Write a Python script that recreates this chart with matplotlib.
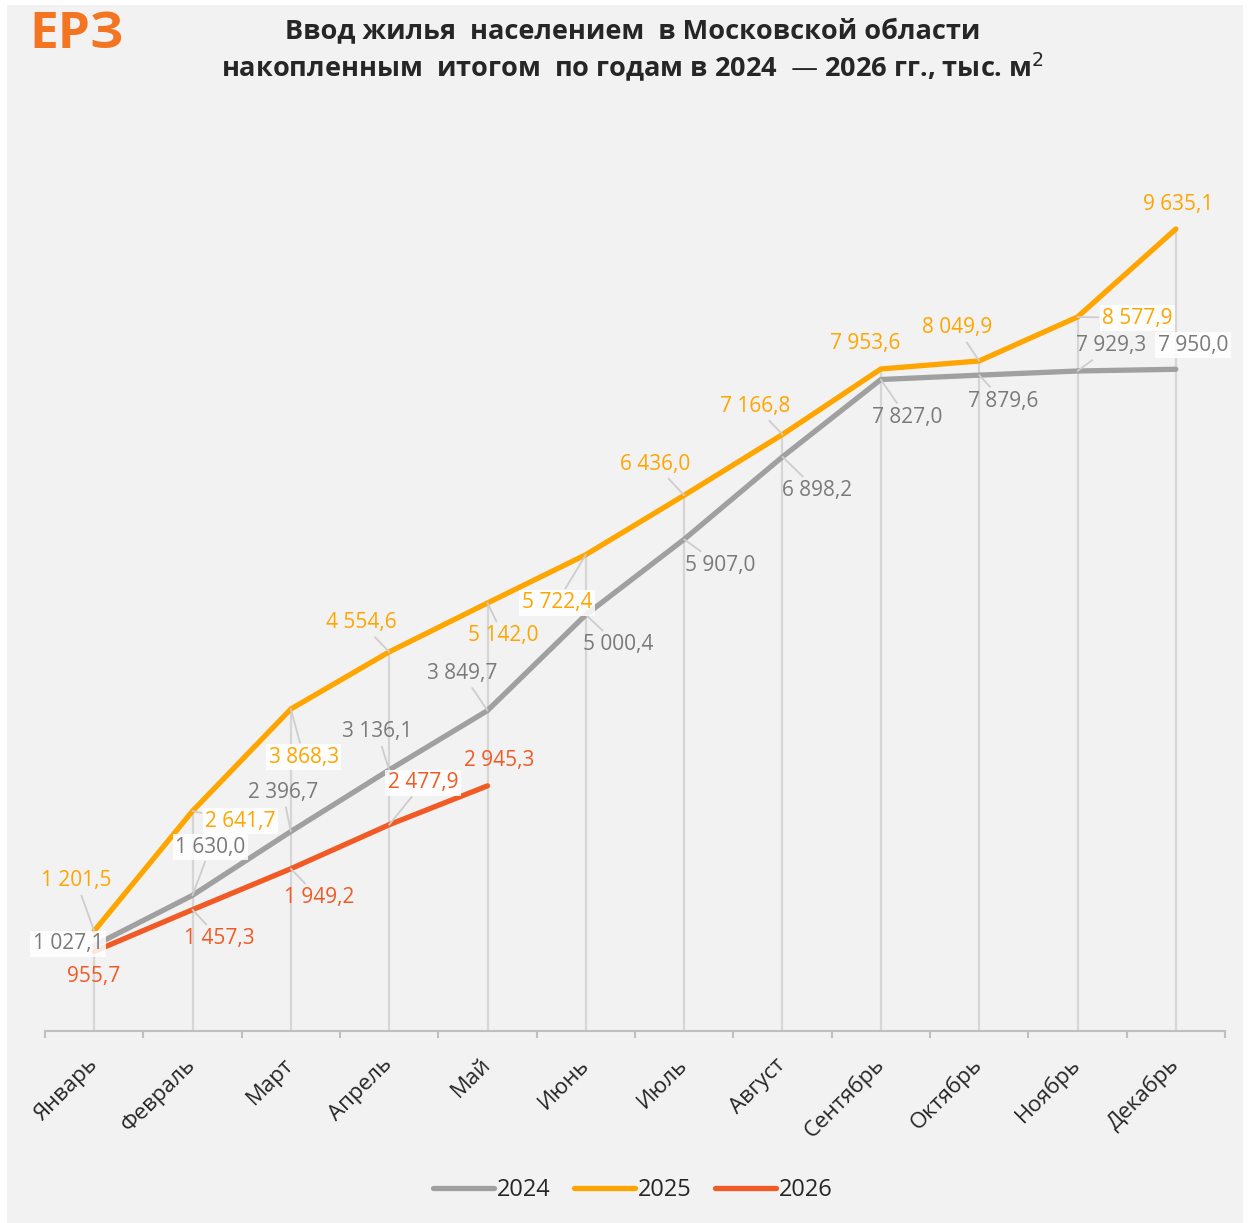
"""Cumulative housing completions by individuals, Moscow region, 2024-2026."""

import matplotlib

matplotlib.use("Agg")
import matplotlib.pyplot as plt
from matplotlib.patches import Rectangle
from matplotlib.lines import Line2D

plt.rcParams["font.family"] = ["Open Sans", "DejaVu Sans"]

MONTHS = ["Январь", "Февраль", "Март", "Апрель", "Май", "Июнь", "Июль",
          "Август", "Сентябрь", "Октябрь", "Ноябрь", "Декабрь"]

Y2024 = [1027.1, 1630.0, 2396.7, 3136.1, 3849.7, 5000.4, 5907.0,
         6898.2, 7827.0, 7879.6, 7929.3, 7950.0]
Y2025 = [1201.5, 2641.7, 3868.3, 4554.6, 5142.0, 5722.4, 6436.0,
         7166.8, 7953.6, 8049.9, 8577.9, 9635.1]
Y2026 = [955.7, 1457.3, 1949.2, 2477.9, 2945.3]

# label offsets from the point, in screen pixels (y grows downward)
OFF_2024 = [(-26, -2), (18, -48), (-8, -39), (-12, -38), (-25, -37), (32, 30),
            (36, 26), (35, 34), (26, 38), (24, 26), (34, -25), (17, -24)]
OFF_2025 = [(-18, -50), (48, 10), (13, 48), (-28, -29), (16, 33), (-29, 48),
            (-29, -31), (-27, -28), (-16, -25), (-22, -33), (60, 1), (2, -25)]
OFF_2026 = [(-1, 25), (27, 29), (28, 29), (34, -42), (12, -25)]

# labels that sit on a white plate
BOXED_2024 = {0, 1, 11}
BOXED_2025 = {1, 2, 5, 10}
BOXED_2026 = {3}

GRAY = "#a0a0a0"
ORANGE = "#ffa500"
RED = "#f15a24"
GRAY_TXT = "#7a7a7a"
BG = "#f2f2f2"
DPI = 100


def fmt(v):
    s = f"{v:,.1f}".replace(",", " ").replace(".", ",")
    return s


def add_labels(ax, values, offsets, boxed, color):
    for i, (v, (dx, dy)) in enumerate(zip(values, offsets)):
        bbox = None
        if i in boxed:
            bbox = dict(boxstyle="square,pad=0.12", fc="white", ec="none", alpha=0.85)
        arrow = None
        if (dx * dx + dy * dy) ** 0.5 >= 30:
            arrow = dict(arrowstyle="-", color="#cdcdcd", lw=1.3, shrinkA=1, shrinkB=0)
        ax.annotate(fmt(v), xy=(i, v), xytext=(dx * 72 / DPI, -dy * 72 / DPI),
                    textcoords="offset points", ha="center", va="center",
                    fontsize=15, color=color, bbox=bbox, arrowprops=arrow,
                    zorder=6)


def main():
    fig = plt.figure(figsize=(12.5, 12.23), dpi=DPI, facecolor="white")
    fig.patches.append(Rectangle((7 / 1250, 0), 1236 / 1250, 1218 / 1223,
                                 transform=fig.transFigure, fc=BG, ec="none", zorder=-10))

    ax = fig.add_axes([45 / 1250, 192 / 1223, 1180 / 1250, 915.6 / 1223])
    ax.set_facecolor("none")
    x = list(range(len(MONTHS)))

    # drop lines from the highest point of each month
    tops = [max(vals) for vals in zip(*[Y2024, Y2025, Y2026 + [0] * 7])]
    ax.vlines(x, 0, tops, color="#d6d6d6", lw=1.6, zorder=1)

    ax.plot(x, Y2024, color=GRAY, lw=3.8, solid_capstyle="round", zorder=3)
    ax.plot(x, Y2025, color=ORANGE, lw=3.8, solid_capstyle="round", zorder=4)
    ax.plot(x[:len(Y2026)], Y2026, color=RED, lw=3.8, solid_capstyle="round", zorder=5)

    add_labels(ax, Y2024, OFF_2024, BOXED_2024, GRAY_TXT)
    add_labels(ax, Y2025, OFF_2025, BOXED_2025, ORANGE)
    add_labels(ax, Y2026, OFF_2026, BOXED_2026, RED)

    ax.set_xlim(-0.5, 11.5)
    ax.set_ylim(0, 11000)
    ax.set_yticks([])
    for side in ("left", "right", "top"):
        ax.spines[side].set_visible(False)
    ax.spines["bottom"].set_color("#bfbfbf")
    ax.spines["bottom"].set_linewidth(1.5)

    ax.set_xticks(x)
    ax.set_xticklabels(MONTHS, rotation=45, ha="right", va="center",
                       rotation_mode="anchor", fontsize=16, color="#262626")
    ax.tick_params(axis="x", which="major", length=0, pad=22)
    ax.set_xticks([i - 0.5 for i in range(13)], minor=True)
    ax.tick_params(axis="x", which="minor", length=5, width=1.5, color="#bfbfbf")

    fig.text(0.506, 0.974, "Ввод жилья  населением  в Московской области",
             ha="center", va="center", fontsize=19.5, fontweight="bold", color="#262626")
    fig.text(0.506, 0.945, "накопленным  итогом  по годам в 2024  — 2026 гг., тыс. м$^2$",
             ha="center", va="center", fontsize=19.5, fontweight="bold", color="#262626")
    fig.text(29 / 1250, 1 - 35 / 1223, "ЕРЗ", ha="left", va="center",
             fontsize=37, fontweight="bold", color="#f47521")

    handles = [Line2D([], [], color=c, lw=3.8, solid_capstyle="round")
               for c in (GRAY, ORANGE, RED)]
    fig.legend(handles, ["2024", "2025", "2026"], loc="center",
               bbox_to_anchor=(0.506, 1 - 1190 / 1223), ncol=3, frameon=False,
               fontsize=17, handlelength=2.6, handletextpad=0.1, columnspacing=1.0,
               labelcolor="#262626")

    fig.savefig("out.png", dpi=DPI, facecolor=fig.get_facecolor())


if __name__ == "__main__":
    main()
